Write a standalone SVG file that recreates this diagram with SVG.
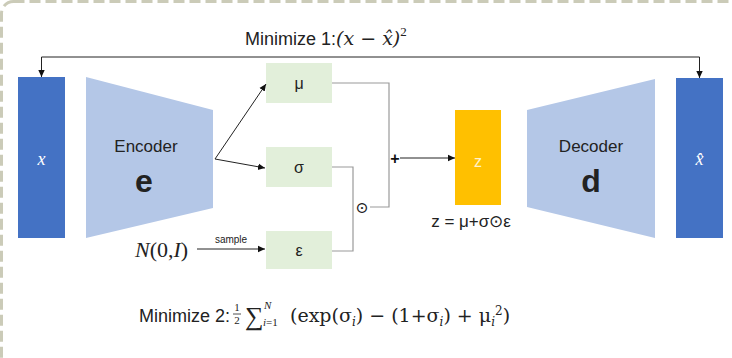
<svg xmlns="http://www.w3.org/2000/svg" width="732" height="358" viewBox="0 0 732 358">
<defs>
<marker id="ah" markerWidth="8" markerHeight="8" refX="7" refY="4" orient="auto" markerUnits="userSpaceOnUse">
<path d="M0,0.8 L7,4 L0,7.2 Z" fill="#111"/>
</marker>
<style>
.sans{font-family:"Liberation Sans",Arial,sans-serif;fill:#222}
.serif{font-family:"Liberation Serif","Times New Roman",serif;fill:#222}
.mth{font-family:"DejaVu Serif","Liberation Serif",serif;fill:#222}
.box{fill:#e2efda}
.io{fill:#4472c4}
.trap{fill:#b4c7e7}
.gl{fill:none;stroke:#9a9a9a;stroke-width:1.2}
.al{fill:none;stroke:#222;stroke-width:1;marker-end:url(#ah)}
</style>
</defs>
<rect x="0" y="0" width="732" height="358" fill="#ffffff"/>
<rect x="1.5" y="1.5" width="900" height="500" rx="12" fill="none" stroke="#cbcbb8" stroke-width="3" stroke-dasharray="11,5"/>

<text class="sans" x="245" y="45" font-size="18">Minimize 1:<tspan class="mth" font-size="19" font-style="italic">(x − x̂)</tspan><tspan class="serif" font-size="13" dy="-9">2</tspan></text>

<g id="x-in"><rect class="io" x="18" y="77" width="47" height="161"/><text class="serif" x="41.5" y="165" font-size="18" font-style="italic" style="fill:#fff" text-anchor="middle">x</text></g>
<g id="encoder"><polygon class="trap" points="86,77 213,110 213,208 86,238"/><text class="sans" x="146" y="152" font-size="17" text-anchor="middle">Encoder</text><text class="sans" x="144" y="192" font-size="32" font-weight="bold" text-anchor="middle">e</text></g>
<g id="mu"><rect class="box" x="266" y="63" width="66" height="40"/><text class="sans" x="299" y="89" font-size="16" text-anchor="middle">μ</text></g>
<g id="sigma"><rect class="box" x="266" y="147" width="66" height="40"/><text class="sans" x="299" y="173" font-size="16" text-anchor="middle">σ</text></g>
<g id="eps"><rect class="box" x="266" y="231" width="66" height="38"/><text class="sans" x="299" y="256" font-size="16" text-anchor="middle">ε</text></g>
<g id="noise"><text class="serif" x="135" y="257" font-size="22" font-style="italic">N<tspan font-style="normal">(0,</tspan>I<tspan font-style="normal">)</tspan></text><text class="sans" x="231" y="243" font-size="10" text-anchor="middle">sample</text></g>
<g id="z"><rect x="455" y="110" width="46" height="95" fill="#ffc000"/><text class="sans" x="478" y="167" font-size="16" text-anchor="middle" style="fill:#fff3cc">z</text><text class="sans" x="471" y="227" font-size="17" text-anchor="middle">z = μ+σ⊙ε</text></g>
<g id="decoder"><polygon class="trap" points="527,110 655,79 655,238 527,207"/><text class="sans" x="591" y="152" font-size="17" text-anchor="middle">Decoder</text><text class="sans" x="591" y="192" font-size="32" font-weight="bold" text-anchor="middle">d</text></g>
<g id="x-out"><rect class="io" x="676" y="78" width="47" height="160"/><text class="serif" x="699.5" y="165" font-size="18" font-style="italic" style="fill:#fff" text-anchor="middle">x̂</text></g>

<g id="connectors">
<polyline class="al" points="358,57 41.5,57 41.5,77"/>
<polyline class="al" points="358,57 699.5,57 699.5,78"/>
<line class="al" x1="215" y1="159" x2="266" y2="84"/>
<line class="al" x1="215" y1="159" x2="265" y2="168"/>
<line class="al" x1="197" y1="249" x2="265" y2="249"/>
<polyline class="gl" points="332,83 389,83 389,207 370,207"/>
<polyline class="gl" points="332,167 353,167 353,251 332,251"/>
<text class="mth" x="362" y="213" font-size="16" text-anchor="middle">⊙</text>
<text class="sans" x="395" y="164" font-size="16" font-weight="bold" text-anchor="middle" style="fill:#111">+</text>
<line class="al" x1="400" y1="158" x2="455" y2="158"/>
</g>

<g id="loss2">
<text class="sans" x="139" y="322" font-size="18">Minimize 2:</text>
<text class="serif" x="237" y="311" font-size="11" text-anchor="middle">1</text>
<line x1="233" y1="314" x2="241" y2="314" stroke="#222" stroke-width="0.8"/>
<text class="serif" x="237" y="324" font-size="11" text-anchor="middle">2</text>
<text class="serif" x="245" y="325" font-size="26">∑</text>
<text class="serif" x="264" y="309" font-size="11" font-style="italic">N</text>
<text class="serif" x="263" y="326" font-size="11"><tspan font-style="italic">i</tspan>=1</text>
<text class="mth" x="290" y="322" font-size="19">(exp(σ<tspan font-size="12" font-style="italic" dy="4">i</tspan><tspan dy="-4">) − (1+σ</tspan><tspan font-size="12" font-style="italic" dy="4">i</tspan><tspan dy="-4">) + μ</tspan><tspan font-size="12" font-style="italic" dy="4">i</tspan><tspan font-size="12" dy="-11">2</tspan><tspan dy="7">)</tspan></text>
</g>
</svg>
